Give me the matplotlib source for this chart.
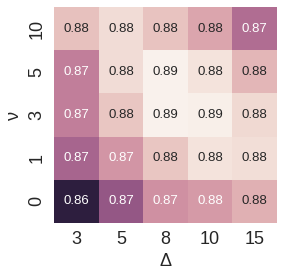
import numpy as np
import pandas as pd
import seaborn as sns
import matplotlib
matplotlib.use("Agg")
import matplotlib.pyplot as plt

# Grid values
delta = [3, 5, 8, 10, 15]
nu = [0, 1, 3, 5, 10]

# accuracy per nu (rows) and delta (columns)
acc_nu0 = [0.8557, 0.8663, 0.8743, 0.8754, 0.8782]
acc_nu1 = [0.8684, 0.8749, 0.8806, 0.8839, 0.8833]
acc_nu3 = [0.8719, 0.8806, 0.8857, 0.8854, 0.8828]
acc_nu5 = [0.8719, 0.8832, 0.8857, 0.8839, 0.8788]
acc_nu10 = [0.8800, 0.8832, 0.8803, 0.8768, 0.8697]

sns.set_theme(style="white")
plt.rcParams['font.family'] = ['Liberation Sans', 'DejaVu Sans']

df = pd.DataFrame([acc_nu0, acc_nu1, acc_nu3, acc_nu5, acc_nu10], index=nu, columns=delta)
df = df.iloc[::-1]

fig = plt.figure(figsize=(2.84, 2.78), dpi=100)
ax = fig.add_axes([54 / 284, 1 - 223 / 278, 223 / 284, 216 / 278])
cmap = sns.cubehelix_palette(light=0.95, as_cmap=True, reverse=True)
sns.heatmap(df, ax=ax, cmap=cmap, annot=True, fmt=".2f", cbar=False,
            annot_kws={"size": 9.5})
ax.set_xlabel("Δ", fontsize=13, labelpad=3)
ax.set_ylabel("ν", fontsize=13, labelpad=4)
ax.tick_params(axis="both", labelsize=13, length=0, pad=6)
plt.setp(ax.get_yticklabels(), rotation=90, va="center")
plt.setp(ax.get_xticklabels(), rotation=0)

plt.savefig("out.png", dpi=100)
